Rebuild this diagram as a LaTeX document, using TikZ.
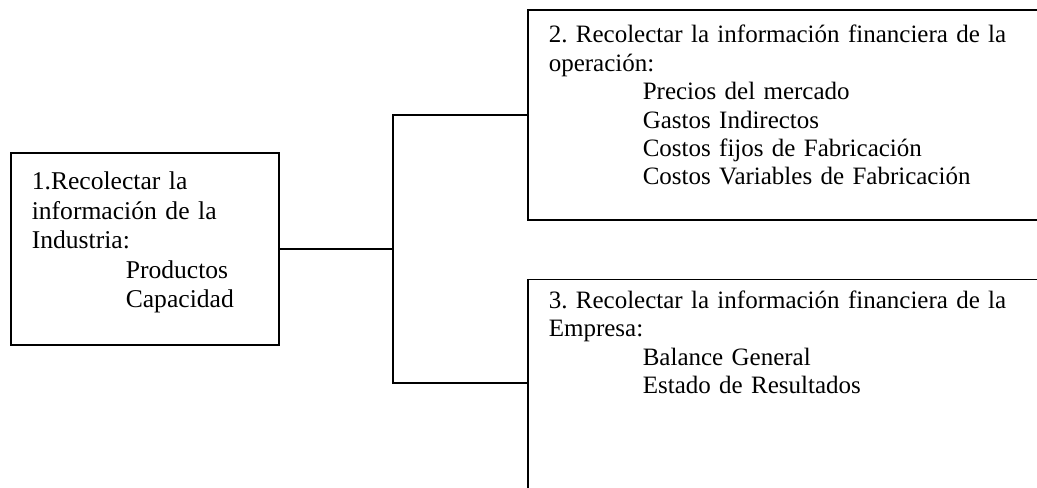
\documentclass[tikz,border=0pt]{standalone}
\usepackage{fontspec}
\setmainfont{Liberation Serif}
\usetikzlibrary{positioning, calc}

\tikzset{
  infobox/.style={draw, rectangle, line width=0.8pt, anchor=north west, align=left,
    inner xsep=10.5pt, inner ysep=0pt, font=\fontsize{12.5pt}{14.2pt}\selectfont\frenchspacing},
  link/.style={line width=0.8pt}
}
\newcommand{\tabin}{\hspace*{47pt}}

\begin{document}
\begin{tikzpicture}[x=0.5pt, y=-0.5pt]
      \useasboundingbox (0,0) rectangle (1037,487);
      \clip (0,0) rectangle (1037,487);

      % Industria
      \node [infobox, text width=113pt, text height=18.5pt, text depth=77.5pt,
        font=\fontsize{12.8pt}{14.7pt}\selectfont\frenchspacing] (industria) at (10,152) {
        1.Recolectar la\\
        información de la\\
        Industria:\\
        \tabin Productos\\
        \tabin Capacidad
      };

      % Operacion
      \node [infobox, text width=249pt, text height=16.5pt, text depth=88.5pt] (operacion) at (527,9) {
        2. Recolectar la información financiera de la\\
        operación:\\
        \tabin Precios del mercado\\
        \tabin Gastos Indirectos\\
        \tabin Costos fijos de Fabricación\\
        \tabin Costos Variables de Fabricación
      };

      % Empresa
      \node [infobox, text width=249pt, text height=14.5pt, text depth=107pt,
        below=29pt of operacion.south west, anchor=north west] (empresa) {
        3. Recolectar la información financiera de la\\
        Empresa:\\
        \tabin Balance General\\
        \tabin Estado de Resultados
      };

      % Lines
      \coordinate (fork) at (393,383);
      \draw [link] (industria.east) -- (industria.east -| fork);
      \draw [link] (operacion.west) -| (fork) -- (fork -| empresa.west);
    \end{tikzpicture}
\end{document}
